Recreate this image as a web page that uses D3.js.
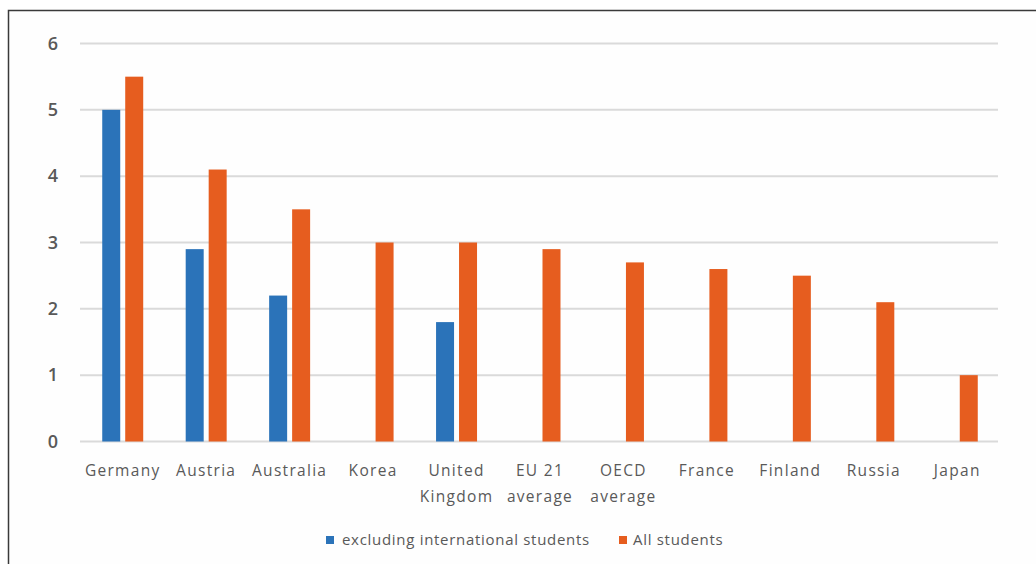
<!DOCTYPE html>
<html>
<head>
<meta charset="utf-8">
<script src="https://cdn.jsdelivr.net/npm/d3@7"></script>
<style>
  html, body { margin: 0; padding: 0; background: #ffffff; }
  svg { display: block; }
  text { font-family: "Open Sans", "Noto Sans", sans-serif; fill: #595959; }
</style>
</head>
<body>
<svg id="chart" width="1036" height="564"></svg>
<script>
const categories = ["Germany", "Austria", "Australia", "Korea", "United\nKingdom", "EU 21\naverage", "OECD\naverage", "France", "Finland", "Russia", "Japan"];
const seriesNames = ["excluding international students", "All students"];
const excludingIntl = [5.0, 2.9, 2.2, null, 1.8, null, null, null, null, null, null];
const allStudents = [5.5, 4.1, 3.5, 3.0, 3.0, 2.9, 2.7, 2.6, 2.5, 2.1, 1.0];
const yTicks = [0, 1, 2, 3, 4, 5, 6];
const colors = ["#2b73b9", "#e65d1f"];

const svg = d3.select("#chart");
const plotLeft = 81, plotRight = 999, plotTop = 43.5, plotBottom = 441.5;

// outer frame
svg.append("rect")
  .attr("x", 8.5).attr("y", 10.5)
  .attr("width", 1100).attr("height", 700)
  .attr("fill", "#fefefe")
  .attr("stroke", "#3a3a3a").attr("stroke-width", 1.5);

const y = d3.scaleLinear().domain([0, 6]).range([plotBottom, plotTop]);
const x0 = d3.scaleBand().domain(categories).range([plotLeft, plotRight])
  .paddingInner(0.509).paddingOuter(0.2545);
const x1 = d3.scaleBand().domain(seriesNames).range([0, x0.bandwidth()])
  .paddingInner(0.217).paddingOuter(0);

// gridlines
svg.append("g").selectAll("line").data(yTicks).join("line")
  .attr("x1", plotLeft - 1).attr("x2", plotRight - 1)
  .attr("y1", d => y(d)).attr("y2", d => y(d))
  .attr("stroke", "#dadada").attr("stroke-width", 2);

// y axis labels
const yAxis = d3.axisLeft(y).tickValues(yTicks).tickSize(0).tickPadding(0).tickFormat(d3.format("d"));
const yg = svg.append("g").attr("transform", `translate(58,0)`).call(yAxis);
yg.select(".domain").remove();
yg.selectAll("text").attr("font-size", 18).attr("fill", "#595959")
  .style("font-family", "'Open Sans', sans-serif").attr("font-weight", 600);

// bars
const data = categories.map((c, i) => ({ cat: c, vals: [excludingIntl[i], allStudents[i]] }));
const groups = svg.append("g").selectAll("g").data(data).join("g")
  .attr("transform", d => `translate(${x0(d.cat)},0)`);
groups.selectAll("rect")
  .data(d => d.vals.map((v, k) => ({ s: seriesNames[k], v, k })).filter(e => e.v != null))
  .join("rect")
  .attr("x", d => x1(d.s))
  .attr("width", x1.bandwidth())
  .attr("y", d => y(d.v))
  .attr("height", d => y(0) - y(d.v))
  .attr("fill", d => colors[d.k]);

// x axis labels
const xAxis = d3.axisBottom(x0).tickSize(0).tickPadding(0).tickFormat("");
const xg = svg.append("g").attr("transform", `translate(0,${plotBottom})`).call(xAxis);
xg.select(".domain").remove();
xg.selectAll(".tick").each(function(d) {
  const lines = d.split("\n");
  const t = d3.select(this).append("text")
    .attr("text-anchor", "middle")
    .attr("font-size", 15.5)
    .attr("letter-spacing", 1.3)
    .attr("fill", "#595959");
  lines.forEach((ln, i) => {
    t.append("tspan").attr("x", 0).attr("y", 34 + i * 26.5).text(ln);
  });
});

// legend
const legend = [
  { name: seriesNames[0], color: colors[0], sx: 326, tx: 342 },
  { name: seriesNames[1], color: colors[1], sx: 619, tx: 633 }
];
const lg = svg.append("g");
legend.forEach(l => {
  lg.append("rect").attr("x", l.sx).attr("y", 536).attr("width", 8).attr("height", 8).attr("fill", l.color);
  lg.append("text").attr("x", l.tx).attr("y", 545).attr("font-size", 15)
    .attr("letter-spacing", 0.7).attr("fill", "#595959").text(l.name);
});
</script>
</body>
</html>
